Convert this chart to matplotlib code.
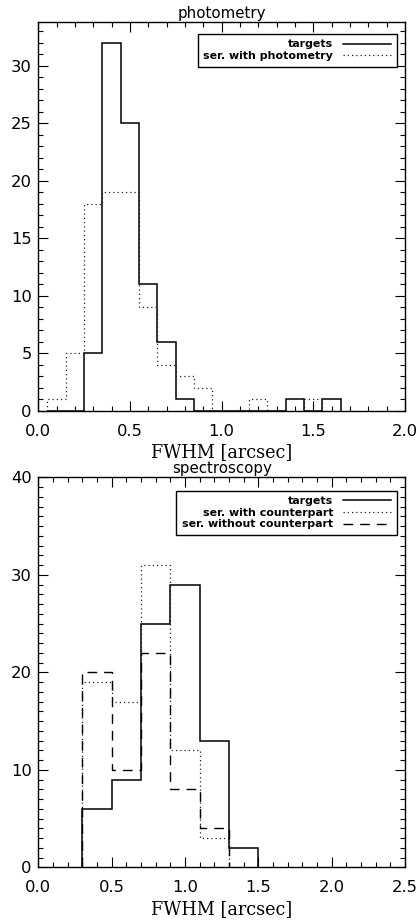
import numpy as np
import matplotlib
matplotlib.use("Agg")
import matplotlib.pyplot as plt
from matplotlib.ticker import MultipleLocator

# ---- photometry histogram (bin width 0.1 arcsec) ----
phot_edges = [0.05, 0.15, 0.25, 0.35, 0.45, 0.55, 0.65, 0.75, 0.85,
              0.95, 1.05, 1.15, 1.25, 1.35, 1.45, 1.55, 1.65]
phot_targets = [0, 0, 5, 32, 25, 11, 6, 1, 0, 0, 0, 0, 0, 1, 0, 1]
phot_serendip = [1, 5, 18, 19, 19, 9, 4, 3, 2, 0, 0, 1, 0, 0, 1, 0]

# ---- spectroscopy histogram (bin width 0.2 arcsec) ----
spec_edges_targets = [0.3, 0.5, 0.7, 0.9, 1.1, 1.3, 1.5]
spec_targets = [6, 9, 25, 29, 13, 2]
spec_edges_ser = [0.3, 0.5, 0.7, 0.9, 1.1, 1.3]
spec_with_cp = [19, 17, 31, 12, 3]
spec_without_cp = [20, 10, 22, 8, 4]

W, H, DPI = 419, 922, 100
fig = plt.figure(figsize=(W / DPI, H / DPI), dpi=DPI)

SOLID = dict(color="black", lw=1.1, linestyle="-")
DOT = dict(color="#222222", lw=0.9, linestyle=(0, (1, 2.4)))
DASH = dict(color="black", lw=1.0, linestyle=(0, (7, 5)))


def style_axes(ax, xmax, ymax, ymajor):
    ax.set_xlim(0, xmax)
    ax.set_ylim(0, ymax)
    ax.xaxis.set_major_locator(MultipleLocator(0.5))
    ax.xaxis.set_minor_locator(MultipleLocator(0.1))
    ax.yaxis.set_major_locator(MultipleLocator(ymajor))
    ax.yaxis.set_minor_locator(MultipleLocator(1))
    ax.xaxis.set_major_formatter(matplotlib.ticker.FormatStrFormatter("%.1f"))
    ax.tick_params(which="both", direction="in", top=True, right=True,
                   width=0.8, colors="black")
    ax.tick_params(which="major", length=7.5)
    ax.tick_params(which="minor", length=3.5)
    ax.tick_params(axis="x", which="major", pad=9.5, labelsize=11.8)
    ax.tick_params(axis="y", which="major", pad=4.8, labelsize=11.8)
    for s in ax.spines.values():
        s.set_linewidth(1.0)
    ax.set_xlabel("FWHM [arcsec]", family="DejaVu Serif", fontsize=12.7,
                  labelpad=3)


def add_legend(ax, anchor):
    leg = ax.legend(loc="upper right", bbox_to_anchor=anchor,
                    borderaxespad=0, markerfirst=False, frameon=True,
                    fancybox=False, framealpha=1, edgecolor="black",
                    prop=dict(family="DejaVu Sans", weight="bold", size=7.9),
                    handlelength=4.4, handletextpad=0.9, borderpad=0.5,
                    labelspacing=0.15)
    leg.get_frame().set_linewidth(1.0)
    return leg


# ---- top panel: photometry ----
ax1 = fig.add_axes([38.3 / W, 1 - 411 / H, 366.7 / W, 389 / H])
ax1.stairs(phot_targets, phot_edges, label="targets", **SOLID)
ax1.stairs(phot_serendip, phot_edges, label="ser. with photometry", **DOT)
style_axes(ax1, 2.0, 33.8, 5)
ax1.set_title("photometry", fontsize=10.8, pad=3)
add_legend(ax1, (0.9774, 0.9692))

# ---- bottom panel: spectroscopy ----
ax2 = fig.add_axes([38.3 / W, 1 - 867.3 / H, 366.7 / W, 390 / H])
ax2.stairs(spec_targets, spec_edges_targets, label="targets", **SOLID)
ax2.stairs(spec_with_cp, spec_edges_ser, label="ser. with counterpart", **DOT)
ax2.stairs(spec_without_cp, spec_edges_ser, label="ser. without counterpart",
           **DASH)
style_axes(ax2, 2.5, 40, 10)
ax2.set_title("spectroscopy", fontsize=10.8, pad=3)
add_legend(ax2, (0.9774, 0.9656))

fig.savefig("out.png", dpi=DPI)
